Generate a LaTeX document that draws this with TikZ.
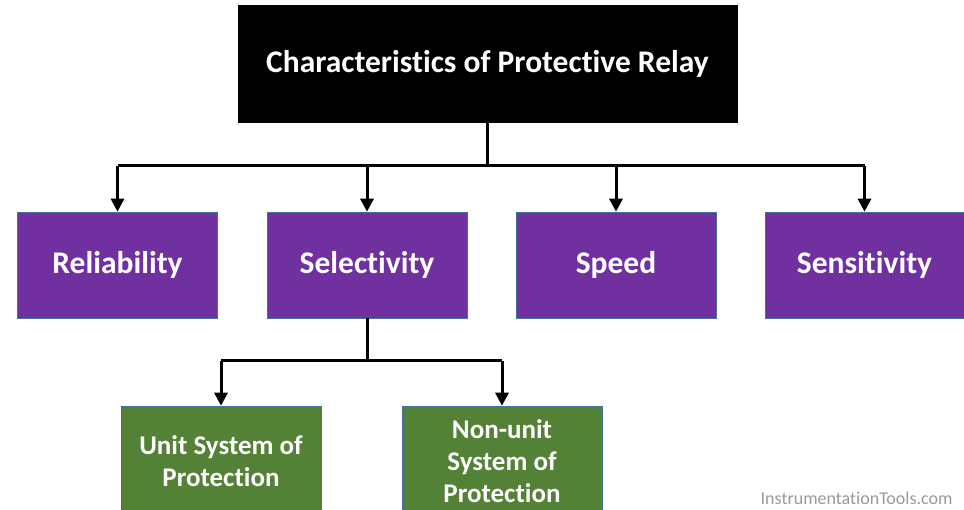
\documentclass[tikz,border=0pt]{standalone}
\usepackage{fontspec}
\setmainfont{Carlito}[Ligatures={NoCommon,NoContextual}]
\usetikzlibrary{arrows.meta}
\definecolor{relaypurple}{HTML}{7030A0}
\definecolor{relaygreen}{HTML}{538135}
\definecolor{boxedge}{HTML}{41719C}
\definecolor{markgray}{HTML}{9A9A9A}
\tikzset{
  titlebox/.style={fill=black, draw=black, text=white, font=\bfseries\fontsize{31.5}{34}\selectfont,
    minimum width=499pt, minimum height=117pt, inner sep=0pt},
  featbox/.style={fill=relaypurple, draw=boxedge, line width=0.6pt, text=white,
    font=\bfseries\fontsize{31.5}{34}\selectfont, minimum width=200pt, minimum height=106pt, inner sep=0pt},
  subbox/.style={fill=relaygreen, draw=boxedge, line width=0.6pt, text=white, align=center,
    font=\bfseries\fontsize{27}{32}\selectfont, minimum width=200pt, minimum height=110pt, inner sep=0pt},
  link/.style={draw=black, line width=3pt},
  arrowlink/.style={link, -{Triangle[width=13pt,length=13pt]}},
}
\begin{document}
\begin{tikzpicture}[x=1pt, y=-1pt]
  \useasboundingbox (0,0) rectangle (964,510);
  \clip (0,0) rectangle (964,510);
  \fill[white] (0,0) rectangle (964,510);

  % root
  \node[titlebox] (root) at (487.5,63.5) {\raisebox{-3pt}{Characteristics of Protective Relay}};

  % four characteristics
  \node[featbox] (rel) at (117.5,265) {\raisebox{-2pt}{Reliability}};
  \node[featbox] (sel) at (367,265) {\raisebox{-2pt}{Selectivity}};
  \node[featbox] (spd) at (616,265) {\raisebox{-2pt}{Speed}};
  \node[featbox, minimum width=199pt] (sen) at (864.5,265) {\raisebox{-2pt}{Sensitivity}};

  % two kinds of selectivity
  \node[subbox] (unit) at (221,461) {Unit System of\\Protection};
  \node[subbox] (nonunit) at (502,461) {Non-unit\\System of\\Protection};

  % branch points
  \coordinate (bus) at (487.5,166);
  \coordinate (selbus) at (367,361);

  \draw[link] (root.south) -- (bus);
  \draw[link] (rel.north |- bus) -- (sen.north |- bus);
  \foreach \n in {rel,sel,spd,sen}
    \draw[arrowlink] (\n.north |- bus) -- (\n.north);

  \draw[link] (sel.south) -- (selbus);
  \draw[link] (unit.north |- selbus) -- (nonunit.north |- selbus);
  \foreach \n in {unit,nonunit}
    \draw[arrowlink] (\n.north |- selbus) -- (\n.north);

  % site mark
  \node[text=markgray, font=\fontsize{18}{20}\selectfont, anchor=east] (mark) at (956,498) {InstrumentationTools.com};
\end{tikzpicture}
\end{document}
